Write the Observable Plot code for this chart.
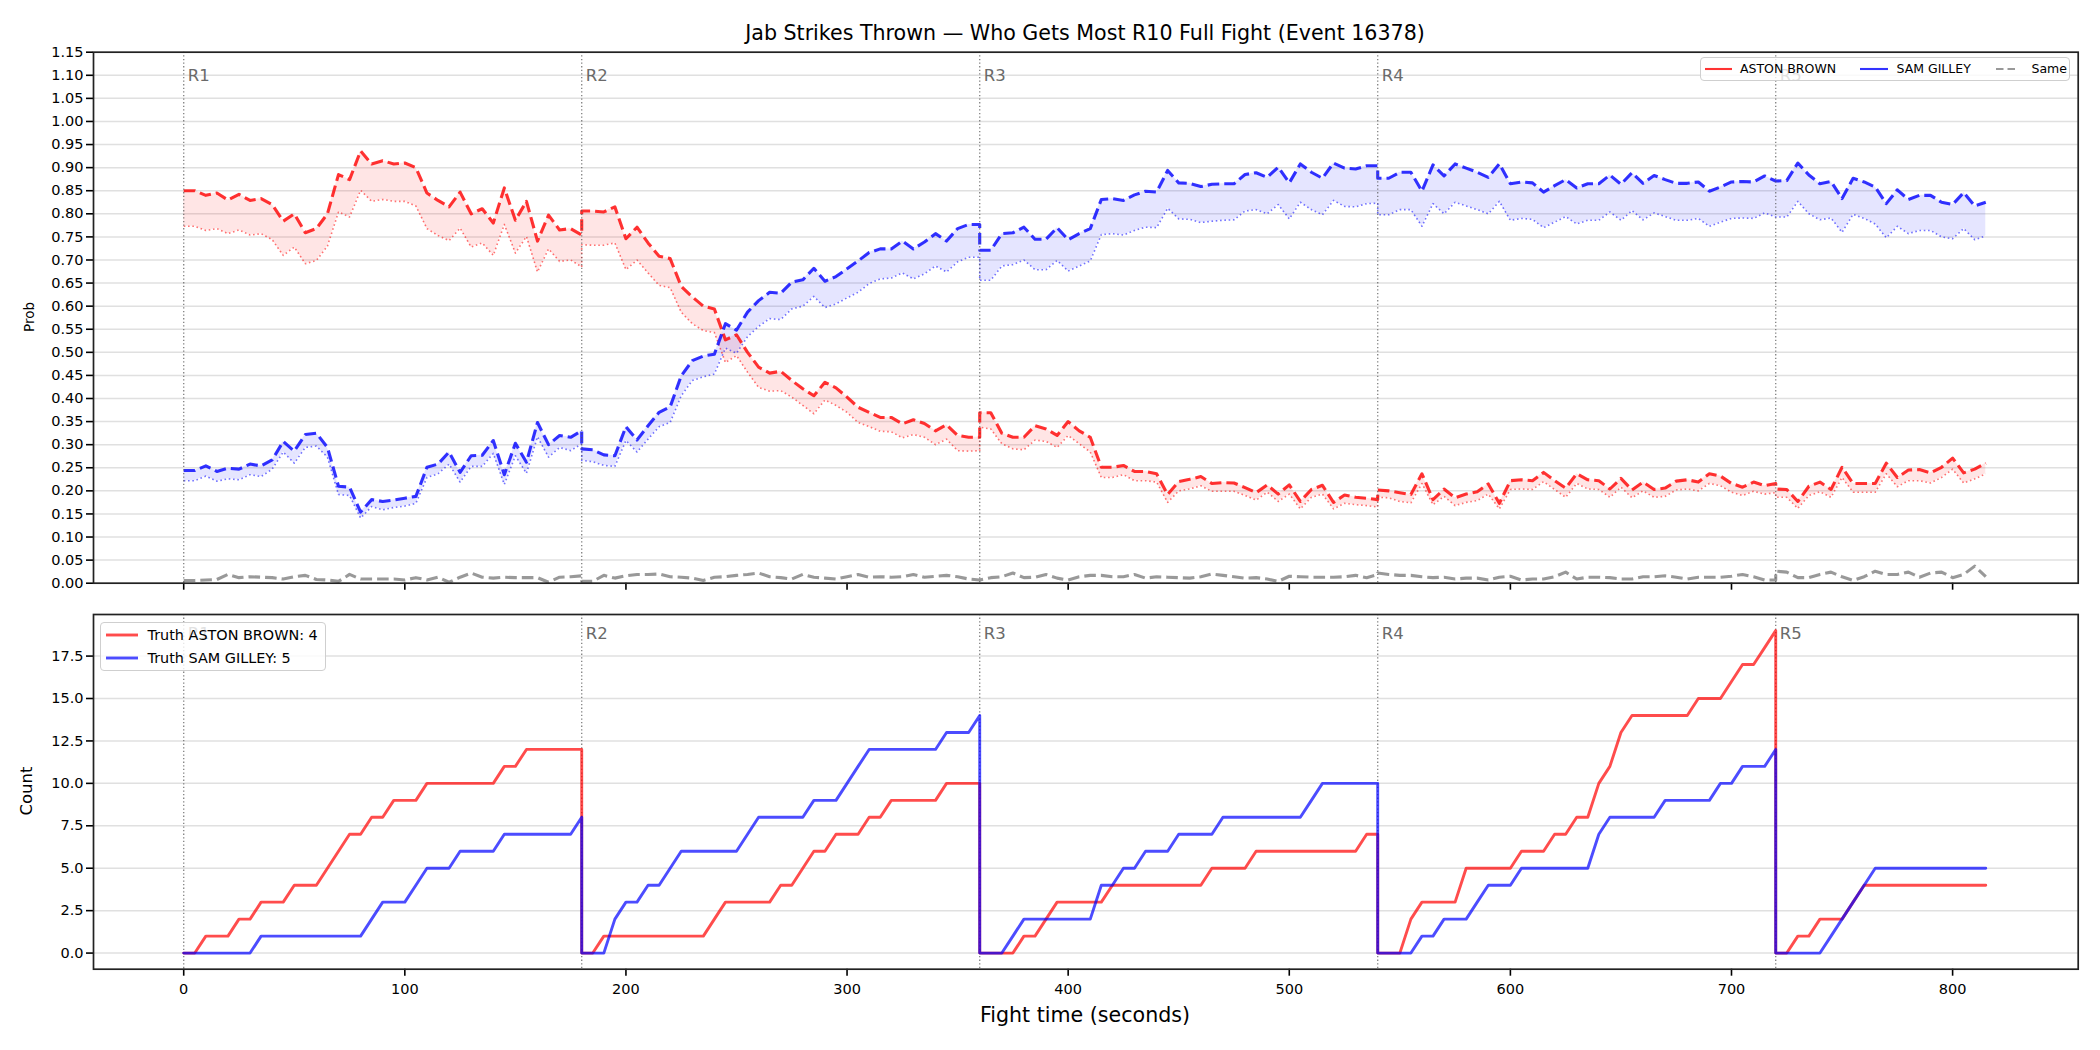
<!DOCTYPE html>
<html>
<head>
<meta charset="utf-8">
<script src="https://cdn.jsdelivr.net/npm/d3@7"></script>
<script src="https://cdn.jsdelivr.net/npm/@observablehq/plot@0.6"></script>
<style>
  html, body { margin: 0; padding: 0; background: #fff; overflow: hidden; }
  #fig { position: relative; width: 2100px; height: 1050px; font-family: "DejaVu Sans", sans-serif; color: #000; overflow: hidden; }
  .panel { position: absolute; left: 0; }
  .lbl { position: absolute; white-space: nowrap; transform: translate(-50%, -50%); line-height: 1; }
  .legend { position: absolute; box-sizing: border-box; background: rgba(255,255,255,0.8); border: 1.3px solid #cfcfcf; border-radius: 4px; }
  .legend .item { position: absolute; white-space: nowrap; line-height: 1; transform: translateY(-50%); }
  .legend svg { position: absolute; overflow: visible; }
</style>
</head>
<body>
<div id="fig"></div>
<script>
// Round structure: each round is sampled every 5 s from its start to its end (round 5 stops at 815 s).
const roundStarts = [0, 180, 360, 540, 720];
const roundLabels = ["R1", "R2", "R3", "R4", "R5"];
const roundLengths = [180, 180, 180, 180, 95];
const sampleStep = 5;

// Axis ticks
const probTicks = [0, 0.05, 0.1, 0.15, 0.2, 0.25, 0.3, 0.35, 0.4, 0.45, 0.5, 0.55, 0.6, 0.65, 0.7, 0.75, 0.8, 0.85, 0.9, 0.95, 1.0, 1.05, 1.1, 1.15];
const countTicks = [0, 2.5, 5, 7.5, 10, 12.5, 15, 17.5];
const timeTicks = [0, 100, 200, 300, 400, 500, 600, 700, 800];

// Fighters
const fighterA = "ASTON BROWN";
const fighterB = "SAM GILLEY";

// Predicted probability (dashed) and lower band (dotted) for ASTON BROWN
const astonProb = [
  0.85, 0.85, 0.84, 0.845, 0.83, 0.842, 0.829, 0.833, 0.82, 0.784, 0.80, 0.759, 0.768, 0.80, 0.885, 0.874, 0.936, 0.908, 0.915, 0.908, 0.91, 0.90, 0.845, 0.829, 0.815, 0.847, 0.80, 0.811, 0.78, 0.856, 0.786, 0.827, 0.741, 0.797, 0.765, 0.768, 0.754,
  0.806, 0.806, 0.804, 0.815, 0.746, 0.771, 0.737, 0.708, 0.703, 0.643, 0.62, 0.60, 0.594, 0.527, 0.538, 0.50, 0.468, 0.455, 0.459, 0.439, 0.421, 0.406, 0.435, 0.423, 0.403, 0.381, 0.37, 0.359, 0.359, 0.345, 0.354, 0.346, 0.33, 0.343, 0.32, 0.316, 0.316,
  0.369, 0.369, 0.325, 0.316, 0.316, 0.341, 0.334, 0.32, 0.35, 0.33, 0.316, 0.251, 0.251, 0.255, 0.242, 0.242, 0.237, 0.192, 0.22, 0.225, 0.231, 0.216, 0.218, 0.217, 0.207, 0.196, 0.213, 0.193, 0.213, 0.177, 0.203, 0.212, 0.175, 0.191, 0.186, 0.184, 0.181,
  0.202, 0.20, 0.196, 0.192, 0.237, 0.181, 0.204, 0.185, 0.193, 0.198, 0.215, 0.173, 0.222, 0.224, 0.222, 0.24, 0.222, 0.206, 0.237, 0.224, 0.222, 0.204, 0.227, 0.202, 0.219, 0.203, 0.206, 0.221, 0.224, 0.219, 0.237, 0.232, 0.216, 0.208, 0.219, 0.211, 0.216,
  0.204, 0.203, 0.177, 0.21, 0.219, 0.203, 0.251, 0.216, 0.216, 0.216, 0.26, 0.229, 0.245, 0.246, 0.239, 0.251, 0.271, 0.239, 0.247, 0.26
];
const astonLow = [
  0.773, 0.773, 0.764, 0.768, 0.757, 0.765, 0.754, 0.757, 0.744, 0.71, 0.728, 0.692, 0.699, 0.73, 0.804, 0.793, 0.851, 0.827, 0.831, 0.827, 0.827, 0.817, 0.768, 0.753, 0.742, 0.769, 0.728, 0.737, 0.71, 0.777, 0.715, 0.751, 0.674, 0.724, 0.697, 0.70, 0.685,
  0.733, 0.732, 0.732, 0.737, 0.679, 0.70, 0.672, 0.645, 0.64, 0.587, 0.562, 0.547, 0.543, 0.478, 0.493, 0.457, 0.424, 0.416, 0.417, 0.403, 0.385, 0.367, 0.397, 0.385, 0.37, 0.348, 0.339, 0.329, 0.328, 0.315, 0.322, 0.316, 0.30, 0.312, 0.287, 0.286, 0.287,
  0.338, 0.334, 0.302, 0.291, 0.289, 0.31, 0.307, 0.294, 0.32, 0.302, 0.284, 0.229, 0.229, 0.235, 0.222, 0.222, 0.219, 0.175, 0.20, 0.204, 0.211, 0.199, 0.199, 0.199, 0.19, 0.18, 0.197, 0.177, 0.193, 0.161, 0.186, 0.193, 0.161, 0.173, 0.17, 0.168, 0.165,
  0.186, 0.185, 0.177, 0.174, 0.216, 0.17, 0.188, 0.168, 0.175, 0.179, 0.193, 0.161, 0.203, 0.204, 0.203, 0.22, 0.203, 0.186, 0.216, 0.204, 0.203, 0.186, 0.208, 0.185, 0.20, 0.186, 0.188, 0.202, 0.204, 0.20, 0.216, 0.211, 0.197, 0.19, 0.199, 0.193, 0.196,
  0.186, 0.186, 0.162, 0.19, 0.198, 0.186, 0.229, 0.197, 0.197, 0.197, 0.237, 0.209, 0.222, 0.222, 0.217, 0.229, 0.247, 0.217, 0.226, 0.237
];

// Predicted probability (dashed) and lower band (dotted) for SAM GILLEY
const gilleyProb = [
  0.244, 0.244, 0.254, 0.242, 0.249, 0.247, 0.258, 0.254, 0.267, 0.307, 0.286, 0.322, 0.325, 0.294, 0.21, 0.208, 0.154, 0.181, 0.177, 0.18, 0.184, 0.188, 0.251, 0.258, 0.284, 0.24, 0.276, 0.277, 0.309, 0.235, 0.303, 0.262, 0.348, 0.30, 0.32, 0.316, 0.33,
  0.291, 0.289, 0.278, 0.276, 0.339, 0.31, 0.341, 0.37, 0.382, 0.449, 0.482, 0.492, 0.496, 0.562, 0.548, 0.587, 0.612, 0.63, 0.628, 0.652, 0.657, 0.682, 0.654, 0.664, 0.681, 0.698, 0.716, 0.724, 0.724, 0.741, 0.724, 0.739, 0.757, 0.741, 0.768, 0.777, 0.777,
  0.721, 0.721, 0.757, 0.759, 0.771, 0.745, 0.745, 0.77, 0.744, 0.757, 0.768, 0.831, 0.833, 0.829, 0.841, 0.849, 0.847, 0.894, 0.867, 0.866, 0.859, 0.864, 0.865, 0.865, 0.885, 0.889, 0.879, 0.901, 0.867, 0.908, 0.89, 0.877, 0.91, 0.899, 0.897, 0.904, 0.904,
  0.877, 0.877, 0.89, 0.89, 0.849, 0.906, 0.882, 0.908, 0.899, 0.89, 0.879, 0.908, 0.865, 0.869, 0.867, 0.847, 0.861, 0.874, 0.856, 0.865, 0.865, 0.884, 0.864, 0.889, 0.866, 0.883, 0.874, 0.866, 0.866, 0.869, 0.849, 0.858, 0.869, 0.87, 0.869, 0.882, 0.871,
  0.871, 0.872, 0.91, 0.884, 0.865, 0.87, 0.833, 0.877, 0.869, 0.858, 0.822, 0.852, 0.831, 0.84, 0.84, 0.825, 0.82, 0.846, 0.817, 0.825
];
const gilleyLow = [
  0.222, 0.222, 0.232, 0.221, 0.226, 0.224, 0.235, 0.231, 0.247, 0.284, 0.26, 0.294, 0.297, 0.273, 0.192, 0.19, 0.141, 0.166, 0.159, 0.164, 0.167, 0.173, 0.229, 0.237, 0.258, 0.219, 0.253, 0.253, 0.281, 0.214, 0.276, 0.238, 0.317, 0.273, 0.294, 0.287, 0.302,
  0.266, 0.263, 0.255, 0.253, 0.309, 0.284, 0.312, 0.339, 0.348, 0.406, 0.439, 0.447, 0.453, 0.509, 0.498, 0.534, 0.556, 0.573, 0.571, 0.594, 0.60, 0.621, 0.597, 0.605, 0.618, 0.63, 0.649, 0.659, 0.661, 0.672, 0.659, 0.67, 0.687, 0.674, 0.696, 0.706, 0.706,
  0.656, 0.656, 0.687, 0.69, 0.70, 0.679, 0.679, 0.699, 0.676, 0.687, 0.698, 0.755, 0.757, 0.754, 0.764, 0.771, 0.77, 0.812, 0.789, 0.788, 0.781, 0.784, 0.786, 0.787, 0.806, 0.809, 0.80, 0.82, 0.789, 0.825, 0.809, 0.798, 0.829, 0.816, 0.815, 0.822, 0.823,
  0.798, 0.798, 0.809, 0.809, 0.773, 0.822, 0.80, 0.825, 0.817, 0.809, 0.80, 0.827, 0.786, 0.79, 0.788, 0.77, 0.782, 0.794, 0.778, 0.786, 0.786, 0.804, 0.786, 0.807, 0.787, 0.802, 0.794, 0.786, 0.786, 0.79, 0.773, 0.782, 0.79, 0.791, 0.79, 0.802, 0.793,
  0.793, 0.793, 0.827, 0.80, 0.787, 0.791, 0.76, 0.799, 0.79, 0.778, 0.748, 0.773, 0.757, 0.764, 0.764, 0.75, 0.746, 0.768, 0.744, 0.752
];

// Probability that both throw the same number
const sameProb = [
  0.006, 0.006, 0.007, 0.008, 0.019, 0.012, 0.014, 0.013, 0.012, 0.009, 0.014, 0.017, 0.008, 0.007, 0.004, 0.019, 0.009, 0.009, 0.009, 0.009, 0.007, 0.012, 0.007, 0.013, 0.002, 0.013, 0.022, 0.013, 0.011, 0.013, 0.012, 0.012, 0.012, 0.002, 0.013, 0.014, 0.016,
  0.004, 0.004, 0.017, 0.011, 0.016, 0.019, 0.019, 0.02, 0.014, 0.013, 0.011, 0.006, 0.013, 0.014, 0.017, 0.019, 0.022, 0.014, 0.012, 0.009, 0.019, 0.013, 0.011, 0.009, 0.014, 0.019, 0.013, 0.014, 0.013, 0.014, 0.019, 0.013, 0.015, 0.017, 0.014, 0.009, 0.007,
  0.007, 0.012, 0.014, 0.022, 0.012, 0.013, 0.019, 0.011, 0.007, 0.014, 0.017, 0.017, 0.014, 0.014, 0.019, 0.011, 0.014, 0.013, 0.012, 0.011, 0.014, 0.02, 0.017, 0.014, 0.011, 0.012, 0.009, 0.004, 0.015, 0.014, 0.013, 0.013, 0.013, 0.014, 0.017, 0.012, 0.019,
  0.022, 0.019, 0.017, 0.017, 0.014, 0.012, 0.013, 0.009, 0.011, 0.011, 0.007, 0.013, 0.015, 0.007, 0.009, 0.009, 0.014, 0.024, 0.009, 0.013, 0.013, 0.012, 0.009, 0.009, 0.014, 0.014, 0.016, 0.013, 0.009, 0.013, 0.013, 0.013, 0.015, 0.019, 0.014, 0.007, 0.007,
  0.026, 0.024, 0.012, 0.012, 0.019, 0.024, 0.014, 0.006, 0.014, 0.026, 0.019, 0.019, 0.024, 0.013, 0.022, 0.024, 0.012, 0.019, 0.037, 0.014
];

// Actual cumulative jab counts within each round
const astonCount = [
  0, 0, 1, 1, 1, 2, 2, 3, 3, 3, 4, 4, 4, 5, 6, 7, 7, 8, 8, 9, 9, 9, 10, 10, 10, 10, 10, 10, 10, 11, 11, 12, 12, 12, 12, 12, 12,
  0, 0, 1, 1, 1, 1, 1, 1, 1, 1, 1, 1, 2, 3, 3, 3, 3, 3, 4, 4, 5, 6, 6, 7, 7, 7, 8, 8, 9, 9, 9, 9, 9, 10, 10, 10, 10,
  0, 0, 0, 0, 1, 1, 2, 3, 3, 3, 3, 3, 4, 4, 4, 4, 4, 4, 4, 4, 4, 5, 5, 5, 5, 6, 6, 6, 6, 6, 6, 6, 6, 6, 6, 7, 7,
  0, 0, 0, 2, 3, 3, 3, 3, 5, 5, 5, 5, 5, 6, 6, 6, 7, 7, 8, 8, 10, 11, 13, 14, 14, 14, 14, 14, 14, 15, 15, 15, 16, 17, 17, 18, 19,
  0, 0, 1, 1, 2, 2, 2, 3, 4, 4, 4, 4, 4, 4, 4, 4, 4, 4, 4, 4
];
const gilleyCount = [
  0, 0, 0, 0, 0, 0, 0, 1, 1, 1, 1, 1, 1, 1, 1, 1, 1, 2, 3, 3, 3, 4, 5, 5, 5, 6, 6, 6, 6, 7, 7, 7, 7, 7, 7, 7, 8,
  0, 0, 0, 2, 3, 3, 4, 4, 5, 6, 6, 6, 6, 6, 6, 7, 8, 8, 8, 8, 8, 9, 9, 9, 10, 11, 12, 12, 12, 12, 12, 12, 12, 13, 13, 13, 14,
  0, 0, 0, 1, 2, 2, 2, 2, 2, 2, 2, 4, 4, 5, 5, 6, 6, 6, 7, 7, 7, 7, 8, 8, 8, 8, 8, 8, 8, 8, 9, 10, 10, 10, 10, 10, 10,
  0, 0, 0, 0, 1, 1, 2, 2, 2, 3, 4, 4, 4, 5, 5, 5, 5, 5, 5, 5, 7, 8, 8, 8, 8, 8, 9, 9, 9, 9, 9, 10, 10, 11, 11, 11, 12,
  0, 0, 0, 0, 0, 1, 2, 3, 4, 5, 5, 5, 5, 5, 5, 5, 5, 5, 5, 5
];

// Sample times: every round restarts at its own start so the series jump at round boundaries.
const times = roundStarts.flatMap((s, i) =>
  d3.range(0, roundLengths[i] + sampleStep / 2, sampleStep).map(k => s + k));

const rows = times.map((t, i) => ({
  t,
  astonProb: astonProb[i], astonLow: astonLow[i],
  gilleyProb: gilleyProb[i], gilleyLow: gilleyLow[i],
  sameProb: sameProb[i],
  astonCount: astonCount[i], gilleyCount: gilleyCount[i]
}));

const xDomain = [-40.8, 856.8];
const plotStyle = {fontFamily: "'DejaVu Sans', sans-serif", fontSize: "14.5px", color: "#000", background: "transparent", maxWidth: "none", overflow: "visible"};
const gridStyle = {stroke: "#e0e0e0", strokeOpacity: 1, strokeWidth: 1.5};
const roundRule = {stroke: "#555", strokeOpacity: 0.75, strokeWidth: 1.3, strokeDasharray: "1.3,2.3"};
const roundText = (dy) => Plot.text(roundStarts, {
  x: d => d, text: (d, i) => roundLabels[i], frameAnchor: "top", lineAnchor: "middle", dy, dx: 4,
  textAnchor: "start", fill: "#6a6a6a", fontSize: 16.5
});
const dashed = {strokeWidth: 3.1, strokeDasharray: "11.6,5", strokeLinecap: "butt", strokeLinejoin: "round"};
const dotted = {strokeWidth: 1.6, strokeDasharray: "1.6,2.7", strokeLinecap: "butt", strokeOpacity: 0.55};

// Upper panel: probabilities with their bands
const probPlot = Plot.plot({
  width: 2100, height: 600,
  marginTop: 51.7, marginBottom: 17.3, marginLeft: 93, marginRight: 22.3,
  style: plotStyle,
  x: {domain: xDomain, label: null},
  y: {domain: [0, 1.15], label: null},
  marks: [
    Plot.gridY(probTicks, gridStyle),
    Plot.areaY(rows, {x: "t", y1: "astonLow", y2: "astonProb", fill: "red", fillOpacity: 0.1}),
    Plot.areaY(rows, {x: "t", y1: "gilleyLow", y2: "gilleyProb", fill: "blue", fillOpacity: 0.1}),
    Plot.line(rows, {x: "t", y: "astonLow", stroke: "red", ...dotted}),
    Plot.line(rows, {x: "t", y: "gilleyLow", stroke: "blue", ...dotted}),
    Plot.line(rows, {x: "t", y: "astonProb", stroke: "red", strokeOpacity: 0.8, ...dashed}),
    Plot.line(rows, {x: "t", y: "gilleyProb", stroke: "blue", strokeOpacity: 0.8, ...dashed}),
    Plot.line(rows, {x: "t", y: "sameProb", stroke: "gray", strokeOpacity: 0.8, ...dashed}),
    Plot.ruleX(roundStarts, roundRule),
    roundText(23.5),
    Plot.axisY(probTicks, {tickFormat: d3.format(".2f"), tickSize: 7, tickPadding: 3, strokeWidth: 1.6, label: null}),
    Plot.axisX(timeTicks, {tickFormat: () => "", tickSize: 7, strokeWidth: 1.6, label: null}),
    Plot.frame({stroke: "#222", strokeWidth: 1.7})
  ]
});

// Lower panel: actual cumulative counts per round
const countPlot = Plot.plot({
  width: 2100, height: 450,
  marginTop: 14, marginBottom: 81.3, marginLeft: 93, marginRight: 22.3,
  style: plotStyle,
  x: {domain: xDomain, label: null},
  y: {domain: [-0.95, 19.95], label: null},
  marks: [
    Plot.gridY(countTicks, gridStyle),
    Plot.ruleX(roundStarts, roundRule),
    Plot.line(rows, {x: "t", y: "astonCount", stroke: "red", strokeOpacity: 0.7, strokeWidth: 2.9, strokeLinejoin: "round"}),
    Plot.line(rows, {x: "t", y: "gilleyCount", stroke: "blue", strokeOpacity: 0.7, strokeWidth: 2.9, strokeLinejoin: "round"}),
    roundText(19),
    Plot.axisY(countTicks, {tickFormat: d3.format(".1f"), tickSize: 7, tickPadding: 3, strokeWidth: 1.6, label: null}),
    Plot.axisX(timeTicks, {tickFormat: d3.format("d"), tickSize: 7, tickPadding: 8, strokeWidth: 1.6, label: null}),
    Plot.frame({stroke: "#222", strokeWidth: 1.7})
  ]
});

const fig = document.getElementById("fig");

function place(el, top) {
  const wrap = document.createElement("div");
  wrap.className = "panel";
  wrap.style.top = top + "px";
  wrap.appendChild(el);
  fig.appendChild(wrap);
}
place(probPlot, 0);
place(countPlot, 600);

function label(text, x, y, size, rotate) {
  const d = document.createElement("div");
  d.className = "lbl";
  d.textContent = text;
  d.style.left = x + "px";
  d.style.top = y + "px";
  d.style.fontSize = size + "px";
  if (rotate) d.style.transform = "translate(-50%, -50%) rotate(-90deg)";
  fig.appendChild(d);
}
label("Jab Strikes Thrown \u2014 Who Gets Most R10 Full Fight (Event 16378)", 1085, 33, 20.6);
label("Prob", 30, 317, 13.5, true);
label("Count", 27, 791, 16.5, true);
label("Fight time (seconds)", 1085, 1015, 20.6);

function legend(box, fontSize, entries) {
  const L = document.createElement("div");
  L.className = "legend";
  Object.assign(L.style, {left: box.left + "px", top: box.top + "px", width: box.width + "px", height: box.height + "px"});
  for (const e of entries) {
    const s = document.createElementNS("http://www.w3.org/2000/svg", "svg");
    s.setAttribute("width", e.len);
    s.setAttribute("height", 6);
    s.style.left = e.hx + "px";
    s.style.top = (e.y - 3) + "px";
    const ln = document.createElementNS("http://www.w3.org/2000/svg", "line");
    ln.setAttribute("x1", 0); ln.setAttribute("x2", e.len);
    ln.setAttribute("y1", 3); ln.setAttribute("y2", 3);
    ln.setAttribute("stroke", e.color);
    ln.setAttribute("stroke-width", e.width);
    if (e.dash) ln.setAttribute("stroke-dasharray", e.dash);
    s.appendChild(ln);
    L.appendChild(s);
    const t = document.createElement("div");
    t.className = "item";
    t.textContent = e.text;
    t.style.left = e.tx + "px";
    t.style.top = e.y + "px";
    t.style.fontSize = fontSize + "px";
    L.appendChild(t);
  }
  fig.appendChild(L);
}

legend({left: 1700, top: 57, width: 370, height: 24}, 12.5, [
  {text: fighterA, hx: 4, len: 27, tx: 39, y: 11.2, color: "rgba(255,0,0,0.8)", width: 2.1},
  {text: fighterB, hx: 159, len: 28, tx: 195.5, y: 11.2, color: "rgba(0,0,255,0.8)", width: 2.1},
  {text: "Same", hx: 295, len: 23, tx: 330.5, y: 11.2, color: "rgba(128,128,128,0.8)", width: 2.1, dash: "7.5,4"}
]);

legend({left: 100, top: 622, width: 226, height: 49}, 14.4, [
  {text: `Truth ${fighterA}: ${astonCount[astonCount.length - 1]}`, hx: 5, len: 32, tx: 46.5, y: 11.5, color: "rgba(255,0,0,0.7)", width: 2.9},
  {text: `Truth ${fighterB}: ${gilleyCount[gilleyCount.length - 1]}`, hx: 5, len: 32, tx: 46.5, y: 35.2, color: "rgba(0,0,255,0.7)", width: 2.9}
]);
</script>
</body>
</html>
